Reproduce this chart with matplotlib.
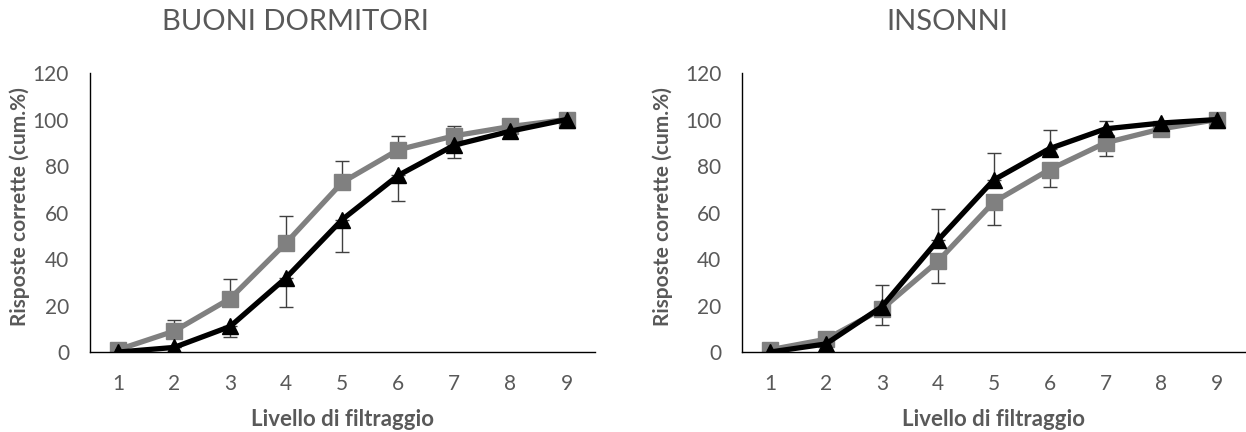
import matplotlib.pyplot as plt

plt.rcParams['font.family'] = ['Lato', 'DejaVu Sans']

levels = [1, 2, 3, 4, 5, 6, 7, 8, 9]

# BUONI DORMITORI
bd_gray = [1, 9, 23, 47, 73, 87, 93, 97, 100]
bd_gray_err = [0, 5, 8.5, 11.5, 9, 6, 4, 0, 0]      # upward bars
bd_black = [0, 2, 11, 32, 57, 76, 89, 95, 100]
bd_black_err = [0, 0, 4.5, 12.5, 14, 11, 5.5, 0, 0]  # downward bars

# INSONNI
in_gray = [1, 5.5, 18.5, 39, 64.5, 78.5, 90, 96, 100]
in_gray_err = [0, 0, 7, 9.5, 10, 7.5, 5.5, 0, 0]     # downward bars
in_black = [0, 3.5, 19.5, 48, 74, 87.5, 96, 98.5, 100]
in_black_err = [0, 0, 9.5, 13.5, 11.5, 8, 3.5, 0, 0]  # upward bars

text_gray = '#595959'
line_gray = '#808080'

fig = plt.figure(figsize=(12.46, 4.32), dpi=100)
ax1 = fig.add_axes([0.0722, 0.185, 0.405, 0.646])
ax2 = fig.add_axes([0.5955, 0.185, 0.404, 0.646])


def draw(ax, gray, gray_err, gray_up, black, black_err, black_up, ylab_x):
    g_lo = [0] * len(gray) if gray_up else gray_err
    g_hi = gray_err if gray_up else [0] * len(gray)
    b_lo = [0] * len(black) if black_up else black_err
    b_hi = black_err if black_up else [0] * len(black)
    ax.errorbar(levels, gray, yerr=[g_lo, g_hi], fmt='none', ecolor='#404040',
                elinewidth=1, capsize=5, capthick=1, zorder=1)
    ax.errorbar(levels, black, yerr=[b_lo, b_hi], fmt='none', ecolor='#404040',
                elinewidth=1, capsize=5, capthick=1, zorder=1)
    ax.plot(levels, gray, color=line_gray, lw=3.8, marker='s', ms=11, zorder=2)
    ax.plot(levels, black, color='black', lw=3.8, marker='^', ms=12, zorder=3)
    ax.set_xlim(0.5, 9.5)
    ax.set_ylim(0, 120)
    ax.set_xticks(levels)
    ax.set_yticks(range(0, 121, 20))
    ax.tick_params(length=0, labelsize=15, colors=text_gray)
    ax.tick_params(axis='x', pad=16)
    ax.tick_params(axis='y', pad=15)
    for s in ['top', 'right']:
        ax.spines[s].set_visible(False)
    for s in ['left', 'bottom']:
        ax.spines[s].set_color('black')
        ax.spines[s].set_linewidth(1)
    ax.set_xlabel('Livello di filtraggio', fontsize=16, fontweight='bold',
                  color=text_gray)
    ax.xaxis.set_label_coords(0.5, -0.205)
    ax.set_ylabel('Risposte corrette (cum.%)', fontsize=15, fontweight='bold',
                  color=text_gray)
    ax.yaxis.set_label_coords(ylab_x, 0.52)


draw(ax1, bd_gray, bd_gray_err, True, bd_black, bd_black_err, False, -0.119)
draw(ax2, in_gray, in_gray_err, False, in_black, in_black_err, True, -0.137)

fig.text(295 / 1246, 1 - 22 / 432, 'BUONI DORMITORI', fontsize=21,
         color=text_gray, ha='center', va='center')
fig.text(947 / 1246, 1 - 22 / 432, 'INSONNI', fontsize=21,
         color=text_gray, ha='center', va='center')

fig.savefig('out.png', dpi=100)
